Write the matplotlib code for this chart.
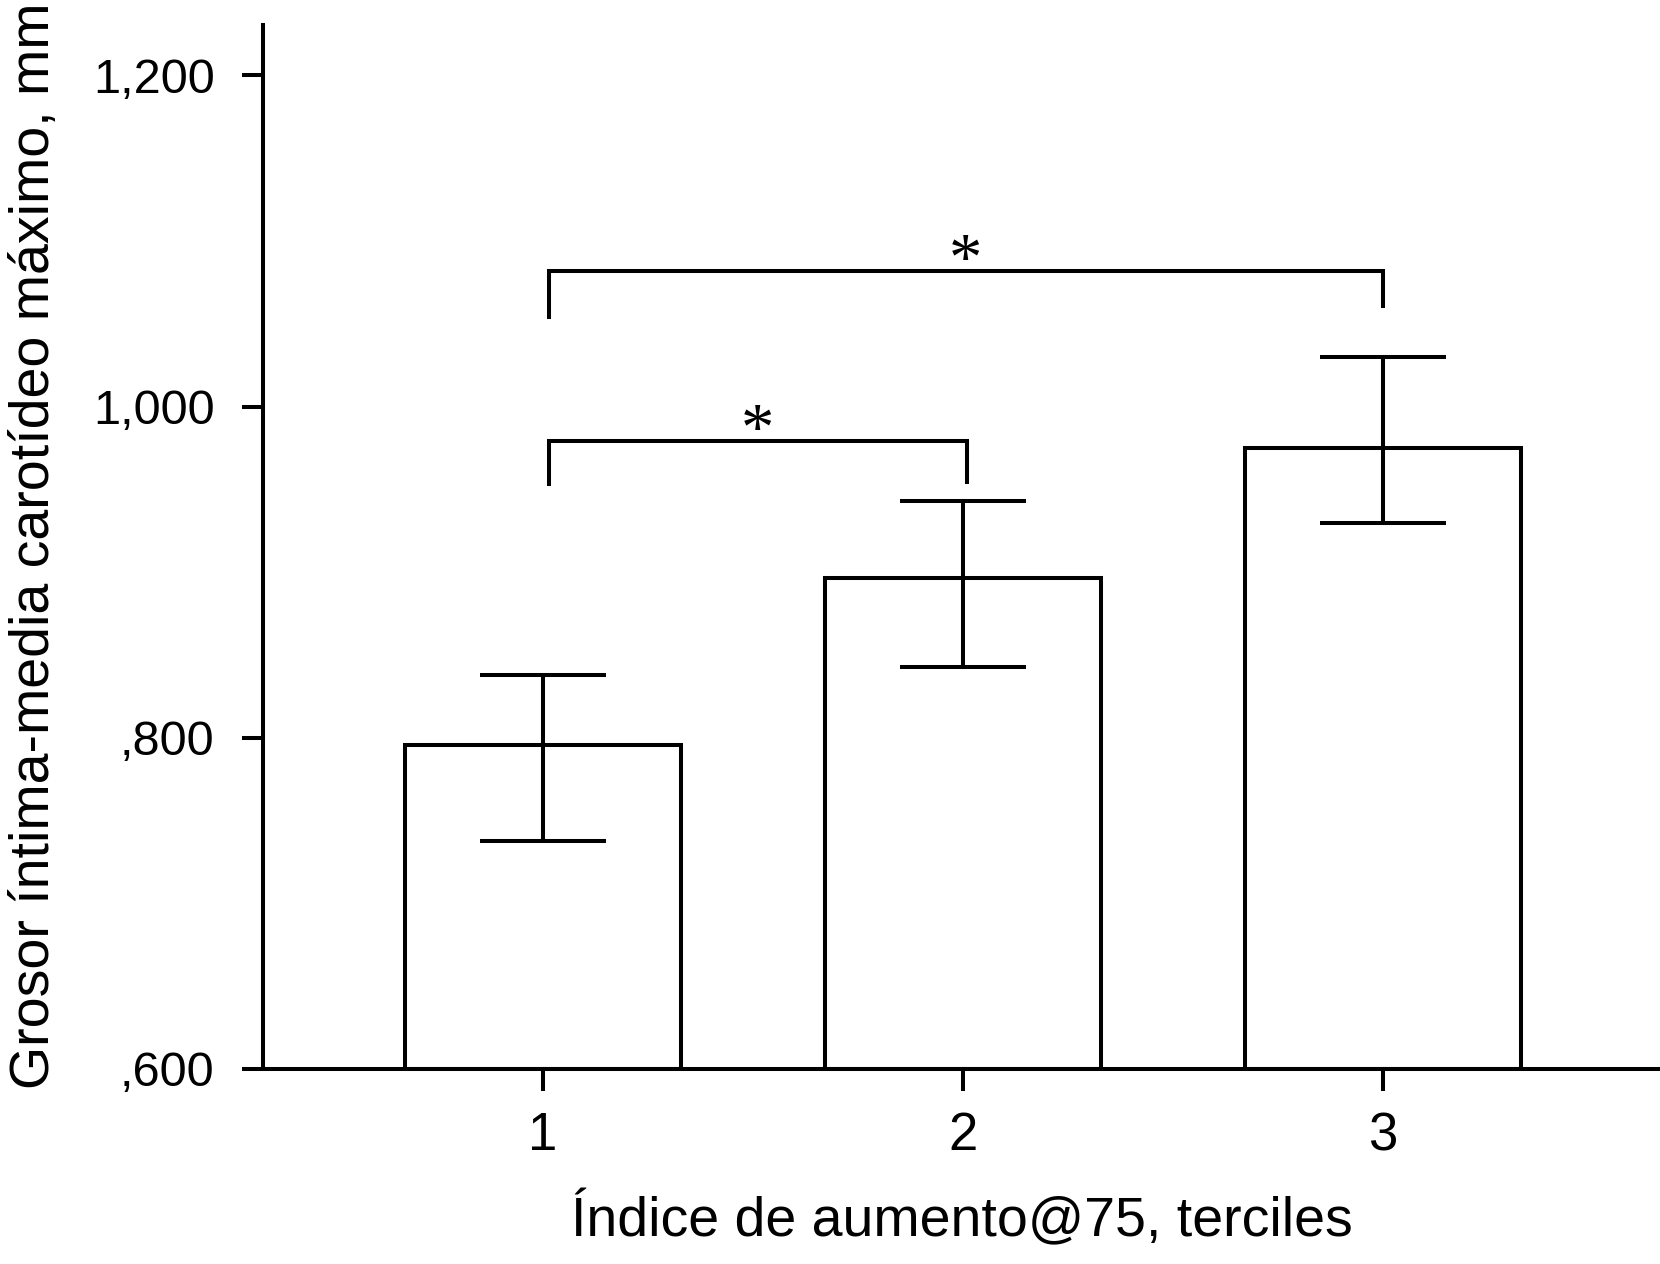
import matplotlib
matplotlib.use("Agg")
import matplotlib.pyplot as plt
import numpy as np

plt.rcParams['font.family'] = ['Liberation Sans', 'DejaVu Sans']

# ---- data ----
categories = [1, 2, 3]
cat_labels = ['1', '2', '3']
means = [0.7958, 0.8965, 0.9750]
err_low = [0.7379, 0.8428, 0.9298]
err_high = [0.8382, 0.9429, 1.0301]

ytick_vals = [0.6, 0.8, 1.0, 1.2]
ytick_labels = [',600', ',800', '1,000', '1,200']

bracket_left = [1.014, 1.014]
bracket_right = [2.01, 3.0]
bracket_top = [0.9793, 1.0822]
bracket_left_foot = [0.9518, 1.0531]
bracket_right_foot = [0.9532, 1.0597]
bracket_text = ['*', '*']

xlabel = 'Índice de aumento@75, terciles'
ylabel = 'Grosor íntima-media carotídeo máximo, mm'

# ---- figure ----
LW = 2.9
fig = plt.figure(figsize=(16.6, 12.64), dpi=100)
ax = fig.add_axes([0.1586, 0.1543, 0.8414, 0.8275])

ybase = ytick_vals[0]
x = np.array(categories, dtype=float)
m = np.array(means)
ax.bar(x, m - ybase, bottom=ybase, width=0.657, color='white',
       edgecolor='black', linewidth=LW, zorder=2)
yerr = [m - np.array(err_low), np.array(err_high) - m]
ax.errorbar(x, m, yerr=yerr, fmt='none', ecolor='black', elinewidth=LW,
            capsize=45.4, capthick=LW, zorder=3)

for xl, xr, yt, yfl, yfr, t in zip(bracket_left, bracket_right, bracket_top,
                                    bracket_left_foot, bracket_right_foot, bracket_text):
    ax.plot([xl, xl, xr, xr], [yfl, yt, yt, yfr], color='black', lw=LW,
            solid_joinstyle='miter', solid_capstyle='butt', zorder=3, clip_on=False)
    ax.annotate(t, xy=((xl + xr) / 2, yt), xytext=(0, -6), textcoords='offset points',
                ha='center', va='baseline', fontsize=48, family='Liberation Serif')

ax.set_xlim(0.335, 3.66)
ax.set_ylim(ybase, 1.2317)
ax.set_xticks(categories)
ax.set_xticklabels(cat_labels)
ax.set_yticks(ytick_vals)
ax.set_yticklabels(ytick_labels)

for s in ['top', 'right']:
    ax.spines[s].set_visible(False)
for s in ['left', 'bottom']:
    ax.spines[s].set_linewidth(LW)
    ax.spines[s].set_capstyle('butt')

ax.tick_params(axis='y', length=15, width=LW, pad=20, labelsize=35)
ax.tick_params(axis='x', length=16, width=LW, pad=14.5, labelsize=38)

ax.set_xlabel(xlabel, fontsize=40)
ax.set_ylabel(ylabel, fontsize=40)
ax.xaxis.set_label_coords(0.5, -0.1166)
ax.yaxis.set_label_coords(-0.1445, 0.5)

fig.savefig('out.png', dpi=100)
